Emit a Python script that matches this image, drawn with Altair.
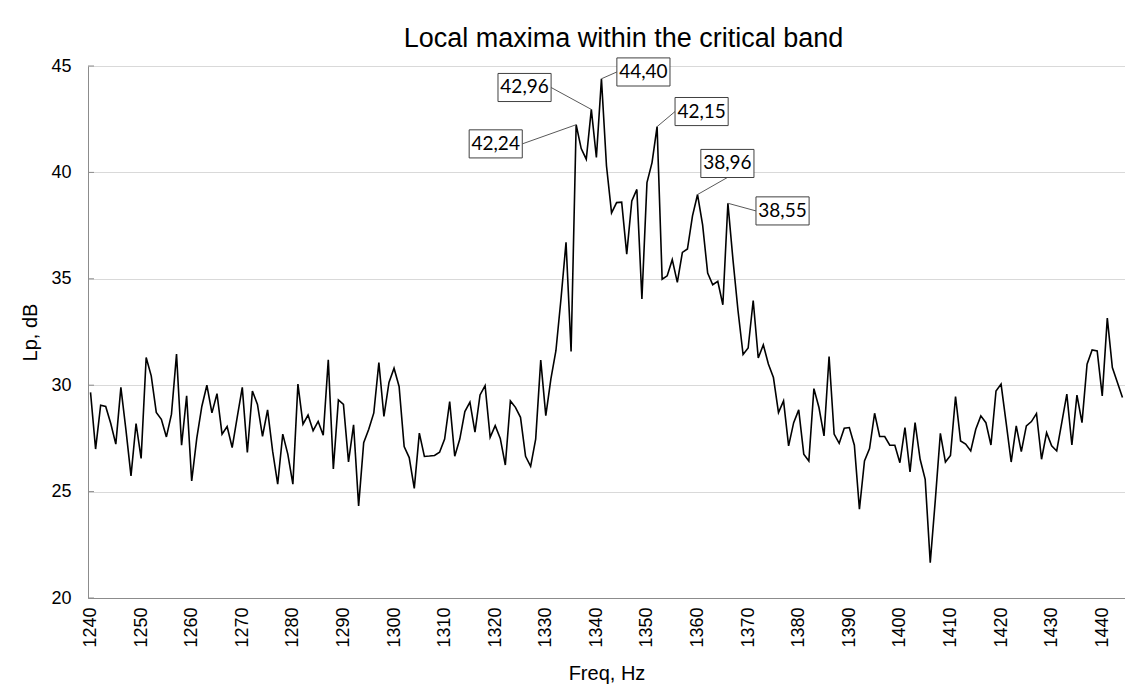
import altair as alt
import pandas as pd

# ---------------- data ----------------
freq = list(range(1240, 1445))
lp = [
    29.66, 27.00, 29.06, 29.00, 28.20, 27.23, 29.90, 27.90, 25.74, 28.20,   # 1240-1249
    26.56, 31.30, 30.44, 28.72, 28.40, 27.57, 28.64, 31.46, 27.18, 29.50,   # 1250-1259
    25.50, 27.50, 29.00, 30.00, 28.70, 29.60, 27.70, 28.06, 27.07, 28.50,   # 1260-1269
    29.90, 26.84, 29.73, 29.10, 27.60, 28.84, 26.90, 25.35, 27.70, 26.76,   # 1270-1279
    25.35, 30.05, 28.17, 28.60, 27.86, 28.30, 27.65, 31.19, 26.06, 29.31,   # 1280-1289
    29.10, 26.40, 28.14, 24.33, 27.30, 27.93, 28.70, 31.06, 28.53, 30.13,   # 1290-1299
    30.80, 29.94, 27.12, 26.60, 25.15, 27.75, 26.65, 26.67, 26.70, 26.85,   # 1300-1309
    27.47, 29.23, 26.66, 27.47, 28.76, 29.20, 27.79, 29.54, 29.98, 27.55,   # 1310-1319
    28.10, 27.50, 26.25, 29.26, 28.96, 28.49, 26.66, 26.19, 27.47, 31.18,   # 1320-1329
    28.57, 30.29, 31.62, 34.05, 36.71, 31.59, 42.24, 41.12, 40.62, 42.96,   # 1330-1339
    40.70, 44.40, 40.30, 38.10, 38.58, 38.60, 36.16, 38.66, 39.20, 34.05,   # 1340-1349
    39.52, 40.46, 42.15, 34.98, 35.14, 35.90, 34.83, 36.24, 36.40, 37.96,   # 1350-1359
    38.96, 37.53, 35.27, 34.72, 34.88, 33.78, 38.55, 35.90, 33.50, 31.44,   # 1360-1369
    31.75, 33.98, 31.28, 31.90, 31.00, 30.36, 28.71, 29.26, 27.15, 28.24,   # 1370-1379
    28.84, 26.76, 26.44, 29.84, 28.95, 27.62, 31.35, 27.70, 27.27, 27.98,   # 1380-1389
    28.01, 27.18, 24.17, 26.44, 27.02, 28.68, 27.59, 27.59, 27.18, 27.18,   # 1390-1399
    26.36, 28.01, 25.92, 28.24, 26.52, 25.58, 21.66, 24.60, 27.74, 26.39,   # 1400-1409
    26.70, 29.47, 27.38, 27.23, 26.91, 27.93, 28.56, 28.24, 27.19, 29.73,   # 1410-1419
    30.05, 28.24, 26.39, 28.09, 26.88, 28.09, 28.29, 28.67, 26.52, 27.77,   # 1420-1429
    27.15, 26.91, 28.24, 29.58, 27.19, 29.53, 28.24, 30.99, 31.66, 31.61,   # 1430-1439
    29.50, 33.15, 30.83, 30.13, 29.42,                                      # 1440-1444
]

peak_freq = [1336, 1339, 1341, 1352, 1360, 1366]
peak_lp = [42.24, 42.96, 44.40, 42.15, 38.96, 38.55]
peak_text = ["42,24", "42,96", "44,40", "42,15", "38,96", "38,55"]

x_ticks = list(range(1240, 1441, 10))
y_ticks = [20, 25, 30, 35, 40, 45]

# ---------------- layout (callout placement) ----------------
box_dx = [-15.9, -13.2, 8.3, 8.8, 5.9, 10.8]     # Hz from peak to box centre
box_dy = [-0.90, 1.03, 0.32, 0.71, 1.46, -0.36]  # dB from peak to box centre
lead_side = ["right", "right", "left", "left", "bottom", "left"]
box_hw = 5.25   # half box width, Hz
box_hh = 0.66   # half box height, dB

line_df = pd.DataFrame({"freq": freq, "lp": lp})

rows = []
for f, v, t, dx, dy, side in zip(peak_freq, peak_lp, peak_text, box_dx, box_dy, lead_side):
    cx, cy = f + dx, v + dy
    if side == "right":
        lx, ly = cx + box_hw, cy
    elif side == "left":
        lx, ly = cx - box_hw, cy
    else:
        lx, ly = cx, cy - box_hh
    rows.append(dict(f=f, v=v, text=t, cx=cx, cy=cy,
                     x0=cx - box_hw, x1=cx + box_hw, y0=cy - box_hh, y1=cy + box_hh,
                     lx=lx, ly=ly))
lab_df = pd.DataFrame(rows)
tick_df = pd.DataFrame({"t": y_ticks})

FONT = "Liberation Sans"
xscale = alt.Scale(domain=[1239.5, 1444.5], nice=False, zero=False)
yscale = alt.Scale(domain=[20, 45], nice=False, zero=False)

xaxis = alt.Axis(values=x_ticks, labelAngle=270, labelFontSize=18, labelFont=FONT,
                 labelColor="#000000", labelPadding=9, ticks=False, grid=False,
                 domainColor="#8c8c8c", domainWidth=1, title="Freq, Hz",
                 titleFont=FONT, titleFontSize=20, titleFontWeight="normal",
                 titleColor="#000000", titlePadding=16, format="d", labelFlush=False)
yaxis = alt.Axis(values=y_ticks, labelFontSize=18, labelFont=FONT, labelColor="#000000",
                 labelPadding=17, ticks=False, grid=True, gridColor="#d9d9d9",
                 gridWidth=1, domainColor="#8c8c8c", domainWidth=1, title="Lp, dB",
                 titleFont=FONT, titleFontSize=20, titleFontWeight="normal",
                 titleColor="#000000", titlePadding=10)

line = alt.Chart(line_df).mark_line(color="#000000", strokeWidth=1.6).encode(
    x=alt.X("freq:Q", scale=xscale, axis=xaxis),
    y=alt.Y("lp:Q", scale=yscale, axis=yaxis),
)

inner_ticks = alt.Chart(tick_df).mark_rule(color="#8c8c8c", strokeWidth=1).encode(
    x=alt.value(0), x2=alt.value(6), y=alt.Y("t:Q", scale=yscale)
)

leaders = alt.Chart(lab_df).mark_rule(color="#595959", strokeWidth=1).encode(
    x=alt.X("f:Q", scale=xscale), y=alt.Y("v:Q", scale=yscale),
    x2="lx:Q", y2="ly:Q",
)

boxes = alt.Chart(lab_df).mark_rect(fill="#ffffff", stroke="#404040", strokeWidth=1).encode(
    x=alt.X("x0:Q", scale=xscale), x2="x1:Q",
    y=alt.Y("y0:Q", scale=yscale), y2="y1:Q",
)

texts = alt.Chart(lab_df).mark_text(font="Lato", fontSize=19, color="#000000",
                                     align="center", baseline="middle").encode(
    x=alt.X("cx:Q", scale=xscale), y=alt.Y("cy:Q", scale=yscale), text="text:N"
)

chart = alt.layer(line, inner_ticks, leaders, boxes, texts).properties(
    width=1037, height=532,
    title=alt.TitleParams(text="Local maxima within the critical band", font=FONT,
                          fontSize=27, fontWeight="normal", color="#000000",
                          anchor="middle", frame="group", baseline="alphabetic",
                          offset=22, dx=17, dy=39),
    autosize=alt.AutoSizeParams(type="none"),
    padding={"left": 80, "top": 58, "right": 0, "bottom": 87},
).configure_view(stroke=None).configure(background="#ffffff")

chart.save("out.html", embed_options={"renderer": "svg", "actions": False})
